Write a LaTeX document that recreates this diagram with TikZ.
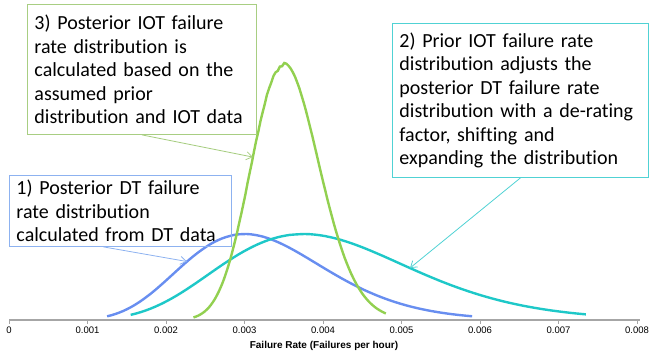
\documentclass[tikz,border=0pt]{standalone}
\usepackage{fontspec}
\setmainfont{Carlito}[Ligatures={NoCommon}]
\newfontfamily\axisfont{Liberation Sans}
\usetikzlibrary{arrows.meta,positioning}

\definecolor{dtblue}{RGB}{104,142,240}
\definecolor{dtline}{RGB}{141,178,240}
\definecolor{priorteal}{RGB}{30,200,200}
\definecolor{priorline}{RGB}{80,210,212}
\definecolor{postgreen}{RGB}{146,208,80}
\definecolor{postline}{RGB}{168,206,130}
\definecolor{axisgray}{RGB}{166,166,166}

\begin{document}
\begin{tikzpicture}[x=1pt, y=1pt,
    declare function={bump(\u,\m,\k)=exp(\k*(ln(\u/\m)+1-\u/\m)); xpos(\u)=9+78.5*\u;},
    curve/.style={line width=2.4pt},
    notebox/.style={draw, line width=0.9pt, anchor=north west, align=left,
      inner xsep=7pt, inner ysep=4pt, font=\fontsize{20}{23.5}\selectfont},
    pointer/.style={line width=0.8pt, -{Straight Barb[length=6pt, width=8pt]}}]

    \useasboundingbox (0,0) rectangle (649,358);

    % Draw axis with ticks
    \draw[axisgray, line width=1.2pt] (9,38) -- (640,38);
    \foreach \t/\lab in {0/0,1/0.001,2/0.002,3/0.003,4/0.004,5/0.005,6/0.006,7/0.007,8/0.008}
      \draw[axisgray] ({xpos(\t)},38) -- ({xpos(\t)},34)
        node[below, inner sep=2.5pt, text=black, font=\axisfont\fontsize{9.5}{11}\selectfont] {\lab};
    \node[font=\axisfont\bfseries\fontsize{10}{12}\selectfont] (xlabel) at (324,12) {Failure Rate (Failures per hour)};

    % Draw the three distributions
    \draw[curve, dtblue] plot[domain=1.25:5.9, samples=90] ({xpos(\x)}, {38+86*bump(\x,3,10.8)});
    \draw[curve, priorteal] plot[domain=1.55:7.35, samples=90] ({xpos(\x)}, {38+86*bump(\x,3.75,9.5)});
    \draw[curve, postgreen] plot[domain=2.35:4.8, samples=90] ({xpos(\x)}, {38+257*bump(\x,3.5,66)});

    % Points on the curves
    \coordinate (dtpt) at ({xpos(2.268)}, {38+86*bump(2.268,3,10.8)});
    \coordinate (priorpt) at ({xpos(5.108)}, {38+86*bump(5.108,3.75,9.5)});
    \coordinate (postpt) at ({xpos(3.108)}, {38+257*bump(3.108,3.5,66)});

    % Draw note boxes
    \node[notebox, draw=postline, text width=215pt, minimum height=130pt] (postbox) at (27,354)
      {3) Posterior IOT failure\\ rate distribution is\\ calculated based on the\\ assumed prior\\ distribution and IOT data};
    \node[notebox, draw=priorline, text width=242pt, minimum height=154pt] (priorbox) at (392,335)
      {2) Prior IOT failure rate\\ distribution adjusts the\\ posterior DT failure rate\\ distribution with a de-rating\\ factor, shifting and\\ expanding the distribution};
    \node[notebox, draw=dtline, text width=208pt, minimum height=71pt] (dtbox) at (9,183)
      {1) Posterior DT failure\\ rate distribution\\ calculated from DT data};

    % Draw pointers
    \draw[pointer, postline] (postbox.south) -- (postpt);
    \draw[pointer, priorline] (priorbox.south) -- (priorpt);
    \draw[pointer, dtline] ([xshift=-17pt]dtbox.south) -- (dtpt);

\end{tikzpicture}
\end{document}
